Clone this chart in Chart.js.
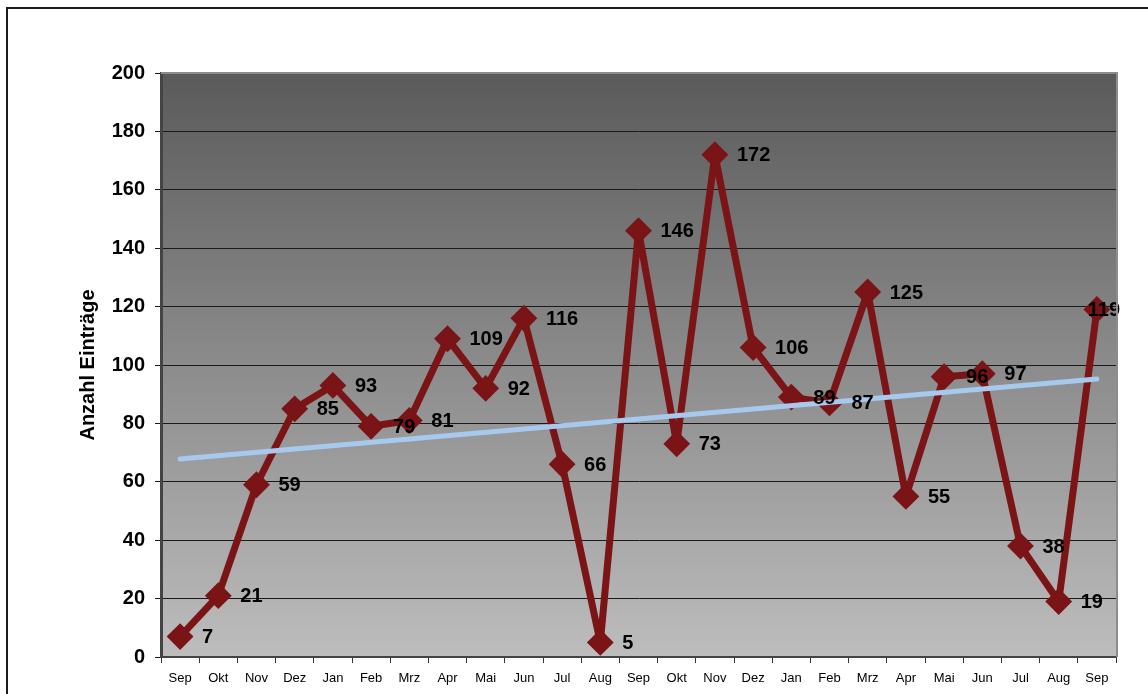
<!DOCTYPE html>
<html>
<head>
<meta charset="utf-8">
<script src="https://cdn.jsdelivr.net/npm/chart.js@4"></script>
<style>
  html, body { margin: 0; padding: 0; background: #fff; overflow: hidden; }
  #wrap { position: relative; width: 1148px; height: 694px; }
  #rahmen { position: absolute; left: 6px; top: 7px; width: 1200px; height: 800px;
            border-left: 2px solid #1c1c1c; border-top: 2px solid #1c1c1c; }
  canvas { position: absolute; left: 0; top: 0; }
</style>
</head>
<body>
<div id="wrap">
  <div id="rahmen"></div>
  <canvas id="grafik" width="1148" height="694"></canvas>
</div>
<script>
// Monate (Sep bis Sep, zwei Jahre)
const monate = ['Sep', 'Okt', 'Nov', 'Dez', 'Jan', 'Feb', 'Mrz', 'Apr', 'Mai', 'Jun', 'Jul', 'Aug',
                'Sep', 'Okt', 'Nov', 'Dez', 'Jan', 'Feb', 'Mrz', 'Apr', 'Mai', 'Jun', 'Jul', 'Aug', 'Sep'];
const eintraege = [7, 21, 59, 85, 93, 79, 81, 109, 92, 116, 66, 5,
                   146, 73, 172, 106, 89, 87, 125, 55, 96, 97, 38, 19, 119];
const trendStart = 67.8;
const trendEnde = 95.2;
const yTicks = [0, 20, 40, 60, 80, 100, 120, 140, 160, 180, 200];

const trendDaten = monate.map((m, i) => i === 0 ? trendStart : (i === monate.length - 1 ? trendEnde : null));

const schrift = '"Liberation Sans", Arial, Helvetica, sans-serif';

// Hintergrund mit Verlauf + Rahmen oben/rechts
const hintergrund = {
    id: 'hintergrund',
    beforeDraw(chart) {
        const { ctx, chartArea: a } = chart;
        const g = ctx.createLinearGradient(0, a.top, 0, a.bottom);
        g.addColorStop(0, '#5a5a5a');
        g.addColorStop(1, '#bdbdbd');
        ctx.save();
        ctx.fillStyle = g;
        ctx.fillRect(a.left, a.top, a.right - a.left, a.bottom - a.top);
        ctx.restore();
    },
    afterDraw(chart) {
        const { ctx, chartArea: a } = chart;
        ctx.save();
        ctx.strokeStyle = '#8c8c8c';
        ctx.lineWidth = 2;
        ctx.beginPath();
        ctx.moveTo(a.left, a.top);
        ctx.lineTo(a.right + 1, a.top);
        ctx.lineTo(a.right + 1, a.bottom);
        ctx.stroke();
        ctx.restore();
    }
};

// Werte neben die Punkte schreiben
const beschriftung = {
    id: 'beschriftung',
    afterDatasetsDraw(chart) {
        const { ctx } = chart;
        const meta = chart.getDatasetMeta(1);
        ctx.save();
        ctx.font = 'bold 20px ' + schrift;
        ctx.fillStyle = '#000';
        ctx.textBaseline = 'middle';
        ctx.textAlign = 'left';
        meta.data.forEach((p, i) => {
            const txt = String(eintraege[i]);
            let x = p.x + 22;
            const w = ctx.measureText(txt).width;
            if (x + w > 1120) x = 1120 - w;
            ctx.fillText(txt, x, p.y + 1);
        });
        ctx.restore();
    }
};

new Chart(document.getElementById('grafik'), {
    type: 'line',
    data: {
        labels: monate,
        datasets: [{
            label: 'Trend',
            data: trendDaten,
            borderColor: '#a7c9ee',
            borderWidth: 5,
            borderCapStyle: 'round',
            pointRadius: 0,
            spanGaps: true,
            fill: false,
            tension: 0
        }, {
            label: 'Anzahl Einträge',
            data: eintraege,
            borderColor: '#7a1416',
            backgroundColor: '#7a1416',
            borderWidth: 7,
            borderJoinStyle: 'round',
            pointStyle: 'rectRot',
            pointRadius: 12,
            pointBorderWidth: 2,
            pointBorderColor: '#7a1416',
            pointBackgroundColor: '#7a1416',
            fill: false,
            tension: 0
        }]
    },
    options: {
        responsive: false,
        animation: false,
        layout: { padding: { left: 72, right: 32, top: 73, bottom: 0 } },
        plugins: {
            legend: { display: false },
            tooltip: { enabled: false }
        },
        scales: {
            x: {
                offset: true,
                grid: { offset: true, drawOnChartArea: false, drawTicks: true, tickLength: 6, color: '#333', lineWidth: 1 },
                border: { display: true, color: '#444', width: 2 },
                ticks: { color: '#000', font: { family: schrift, size: 13 }, padding: 8, maxRotation: 0, autoSkip: false },
                afterFit(s) { s.height = 37; }
            },
            y: {
                min: 0,
                max: 200,
                afterBuildTicks(s) { s.ticks = yTicks.map(v => ({ value: v })); },
                grid: { color: '#1a1a1a', lineWidth: 1, tickLength: 6 },
                border: { display: true, color: '#444', width: 3 },
                ticks: { color: '#000', font: { family: schrift, size: 20, weight: 'bold' }, padding: 10 },
                title: { display: true, text: 'Anzahl Einträge', color: '#000', font: { family: schrift, size: 20, weight: 'bold' } },
                afterFit(s) { s.width = 89; }
            }
        }
    },
    plugins: [hintergrund, beschriftung]
});
</script>
</body>
</html>
